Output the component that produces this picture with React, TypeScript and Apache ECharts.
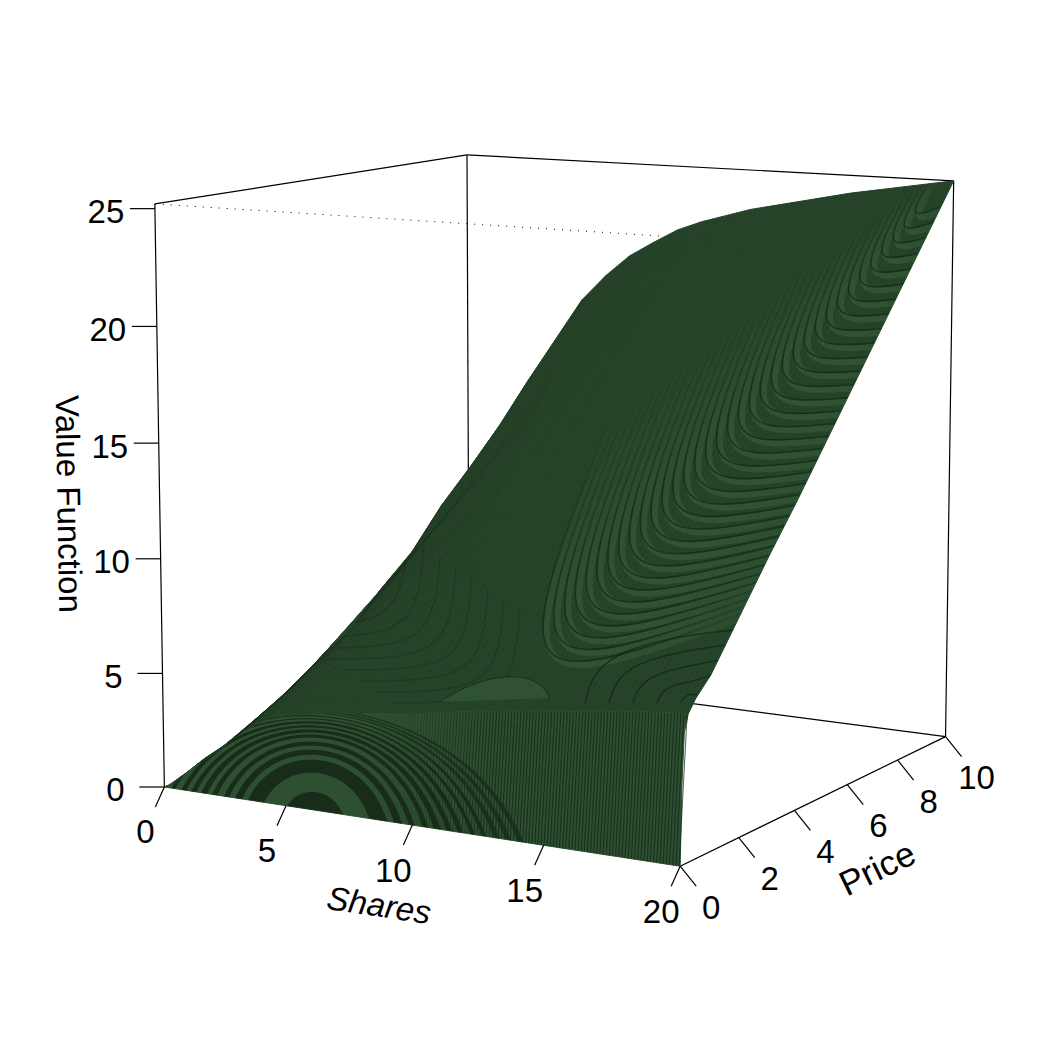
import React, { useEffect, useRef } from "react";
import * as echarts from "echarts";

const shares = [0, 0.5, 1, 2, 3, 4, 5, 6, 7, 8, 9, 10, 12, 14, 16, 18, 20];
const prices = [0, 0.05, 0.12, 0.25, 0.5, 1, 2, 3, 4, 5, 6, 7, 8, 9, 10];
const valueAtShares = [
  [0, 0, 0, 0, 0, 0, 0, 0, 0, 0, 0, 0, 0, 0, 0],
  [0, 0.3, 0.45, 0.5, 0.65, 0.85, 1.4, 1.9, 2.4, 2.9, 3.4, 3.9, 4.4, 4.9, 5.4],
  [0, 0.55, 0.9, 1, 1.15, 1.35, 2.05, 2.8, 3.6, 4.4, 5.2, 6, 6.8, 7.6, 8.4],
  [0, 1, 1.6, 1.8, 2, 2.35, 3.1, 4, 5, 5.9, 6.8, 7.7, 8.6, 9.5, 10.4],
  [0, 1.55, 2.45, 2.8, 3, 3.4, 4.2, 5.3, 6.4, 7.5, 8.6, 9.7, 10.8, 11.9, 13],
  [0, 1.9, 3.05, 3.5, 3.75, 4.2, 5.3, 6.4, 7.5, 8.8, 10, 11.3, 12.6, 14, 15.6],
  [0, 2.1, 3.35, 3.8, 4.1, 5, 6.6, 8, 9.2, 10.9, 12.3, 13.8, 15.5, 17.1, 18.7],
  [0, 2.2, 3.5, 4, 4.4, 5.3, 7.2, 8.6, 10, 11.7, 13, 14.6, 16.3, 17.9, 19.9],
  [0, 2.3, 3.65, 4.15, 4.6, 5.5, 7.4, 9, 10.6, 12.3, 13.8, 15.4, 17.1, 18.8, 20.9],
  [0, 2.35, 3.8, 4.3, 4.8, 5.7, 7.6, 9.4, 11.1, 12.9, 14.6, 16.2, 17.9, 19.7, 21.6],
  [0, 2.4, 3.9, 4.45, 4.95, 5.9, 7.8, 9.65, 11.4, 13.25, 15, 16.7, 18.5, 20.3, 22.25],
  [0, 2.5, 4.05, 4.6, 5.1, 6.1, 8, 9.9, 11.7, 13.6, 15.4, 17.2, 19.1, 20.9, 22.7],
  [0, 2.75, 4.4, 5, 5.5, 6.5, 8.4, 10.3, 12.2, 14.1, 15.9, 17.8, 19.6, 21.5, 23.4],
  [0, 2.9, 4.65, 5.3, 5.8, 6.8, 8.7, 10.6, 12.4, 14.3, 16.2, 18.1, 20, 21.9, 23.9],
  [0, 3.1, 4.9, 5.6, 6.1, 7, 8.9, 10.8, 12.7, 14.6, 16.6, 18.5, 20.5, 22.4, 24.4],
  [0, 3.25, 5.2, 5.9, 6.35, 7.2, 9.1, 11, 13, 14.9, 16.9, 18.9, 20.9, 22.8, 24.8],
  [0, 3.4, 5.4, 6.1, 6.6, 7.3, 9.3, 11.3, 13.2, 15.2, 17.2, 19.2, 21.2, 23.2, 25.2],
];
const shareTicks = [0, 5, 10, 15, 20];
const priceTicks = [0, 2, 4, 6, 8, 10];
const valueTicks = [0, 5, 10, 15, 20, 25];

const S_MAX = 20;
const P_MAX = 10;
const Z_MAX = 25.2;
const FONT = "'Liberation Sans', Arial, sans-serif";

// Camera calibration: box corners (S, P, Z) and where they fall on the page.
const calibration: number[][] = [
  [0, 0, 0, 165, 788],
  [1, 0, 0, 681, 866],
  [1, 1, 0, 945.5, 736.5],
  [0, 1, 0, 468, 674],
  [0, 0, 1, 155, 203.5],
  [0, 1, 1, 467.5, 155],
  [1, 1, 1, 954.5, 181.5],
  [1, 0, 1, 681, 237],
];

function solveCamera(): number[] {
  const rows: number[][] = [];
  const rhs: number[] = [];
  for (const [a, b, c, u, v] of calibration) {
    rows.push([a, b, c, 1, 0, 0, 0, 0, -u * a, -u * b, -u * c]);
    rhs.push(u);
    rows.push([0, 0, 0, 0, a, b, c, 1, -v * a, -v * b, -v * c]);
    rhs.push(v);
  }
  const n = 11;
  const m: number[][] = [];
  for (let i = 0; i < n; i++) {
    const r = new Array(n + 1).fill(0);
    for (let k = 0; k < rows.length; k++) {
      for (let j = 0; j < n; j++) r[j] += rows[k][i] * rows[k][j];
      r[n] += rows[k][i] * rhs[k];
    }
    m.push(r);
  }
  for (let i = 0; i < n; i++) {
    let p = i;
    for (let k = i + 1; k < n; k++) if (Math.abs(m[k][i]) > Math.abs(m[p][i])) p = k;
    [m[i], m[p]] = [m[p], m[i]];
    for (let k = 0; k < n; k++) {
      if (k === i) continue;
      const f = m[k][i] / m[i][i];
      for (let j = i; j <= n; j++) m[k][j] -= f * m[i][j];
    }
  }
  return m.map((r, i) => r[n] / r[i]);
}
const cam = solveCamera();
function project(s: number, p: number, z: number): [number, number] {
  const a = s / S_MAX, b = p / P_MAX, c = z / Z_MAX;
  const w = cam[8] * a + cam[9] * b + cam[10] * c + 1;
  return [
    (cam[0] * a + cam[1] * b + cam[2] * c + cam[3]) / w,
    (cam[4] * a + cam[5] * b + cam[6] * c + cam[7]) / w,
  ];
}
function findCell(list: number[], v: number): number {
  let i = 0;
  while (i < list.length - 2 && list[i + 1] < v) i++;
  return i;
}
// Display-only lookup for the fine mesh hairlines of the texture
function surfaceAt(s: number, p: number): [number, number] {
  const i = findCell(shares, s), j = findCell(prices, p);
  const u = (s - shares[i]) / (shares[i + 1] - shares[i]);
  const w = (p - prices[j]) / (prices[j + 1] - prices[j]);
  const g = valueAtShares;
  const z = (1 - u) * (1 - w) * g[i][j] + u * (1 - w) * g[i + 1][j] + (1 - u) * w * g[i][j + 1] + u * w * g[i + 1][j + 1];
  return project(s, p, z);
}

const SURFACE = "#26442a";
const WALL = "#2d5032";
const DARK = "#182c19";

const cells: number[][] = [];
for (let j = prices.length - 2; j >= 0; j--) {
  for (let i = 0; i < shares.length - 1; i++) cells.push([i, j]);
}

const P_CREASE = 3; // index of the fold row in prices

function renderCell(params: any, api: any) {
  const i = api.value(0), j = api.value(1);
  const g = valueAtShares;
  const pts = [
    project(shares[i], prices[j], g[i][j]),
    project(shares[i + 1], prices[j], g[i + 1][j]),
    project(shares[i + 1], prices[j + 1], g[i + 1][j + 1]),
    project(shares[i], prices[j + 1], g[i][j + 1]),
  ].map((q) => api.coord(q));
  const col = j < P_CREASE ? WALL : SURFACE;
  return { type: "polygon", shape: { points: pts }, style: { fill: col, stroke: col, lineWidth: 1 } };
}

const boxEdges = [
  [0, 0, 0, 0, 0, 1, 0],
  [0, 0, 1, 0, 1, 1, 0],
  [0, 1, 1, 1, 1, 1, 0],
  [1, 1, 1, 1, 1, 0, 0],
  [1, 1, 0, 1, 0, 0, 0],
  [0, 1, 0, 0, 1, 1, 0],
  [0, 1, 0, 1, 1, 0, 0],
  [0, 0, 0, 0, 1, 0, 0],
  [0, 0, 1, 1, 0, 1, 1],
  [1, 0, 1, 1, 1, 1, 1],
  [1, 0, 1, 1, 0, 0, 1],
];
function renderBox(params: any, api: any) {
  const k = params.dataIndex;
  const e = boxEdges[k];
  const a = api.coord(project(e[0] * S_MAX, e[1] * P_MAX, e[2] * Z_MAX));
  const b = api.coord(project(e[3] * S_MAX, e[4] * P_MAX, e[5] * Z_MAX));
  return {
    type: "line",
    shape: { x1: a[0], y1: a[1], x2: b[0], y2: b[1] },
    style: e[6] ? { stroke: "#000", lineWidth: 1, lineDash: [1, 7] } : { stroke: "#000", lineWidth: 1.2 },
  };
}

function tickGroup(api: any, base: [number, number], d: [number, number], labelAt: [number, number], text: string) {
  const a = api.coord(base);
  const b = api.coord([base[0] + d[0], base[1] + d[1]]);
  const t = api.coord([base[0] + labelAt[0], base[1] + labelAt[1]]);
  return {
    type: "group",
    children: [
      { type: "line", shape: { x1: a[0], y1: a[1], x2: b[0], y2: b[1] }, style: { stroke: "#000", lineWidth: 1.2 } },
      {
        type: "text",
        x: t[0],
        y: t[1],
        style: { text, fontSize: 33, fontFamily: FONT, fill: "#000", align: "center", verticalAlign: "middle" },
      },
    ],
  };
}
const renderShareTick = (_: any, api: any) => {
  const v = api.value(0);
  return tickGroup(api, project(v, 0, 0), [-9, 20], [-19, 45], String(v));
};
const renderPriceTick = (_: any, api: any) => {
  const v = api.value(0);
  return tickGroup(api, project(S_MAX, v, 0), [16, 20], [31, 41], String(v));
};
const renderValueTick = (_: any, api: any) => {
  const v = api.value(0);
  return tickGroup(api, project(0, 0, v), [-25, 0], [-49, 3], String(v));
};

const axisTitles = [
  { text: "Value Function", x: 69, y: 504, deg: -89, size: 33, style: "normal" },
  { text: "Shares", x: 379, y: 905, deg: -8.5, size: 33, style: "italic" },
  { text: "Price", x: 877, y: 868, deg: 26, size: 35, style: "normal" },
];
const renderTitle = (params: any, api: any) => {
  const t = axisTitles[params.dataIndex];
  const c = api.coord([t.x, t.y]);
  return {
    type: "text",
    x: c[0],
    y: c[1],
    rotation: (t.deg * Math.PI) / 180,
    style: {
      text: t.text,
      fontSize: t.size,
      fontStyle: t.style,
      fontFamily: FONT,
      fill: "#000",
      align: "center",
      verticalAlign: "middle",
    },
  };
};

// Moire texture of the fine mesh (styling only)
const bandOuterTop = [760, 750, 742, 735, 730, 726, 722, 719, 716, 713, 711, 709];
const bandInnerTop = [773, 755, 746, 738, 733, 728, 724, 720, 717, 714, 712, 710];
const bandOuterHalf = [66, 79, 90, 102, 113, 123, 133, 143, 153, 165, 175, 186];
const bandInnerHalf = [50, 72, 85, 97, 107, 118, 128, 139, 149, 160, 170, 181];

function gridPoint(api: any, i: number, j: number) {
  return api.coord(project(shares[i], prices[j], valueAtShares[i][j]));
}
function wallClip(api: any) {
  const pts: number[][] = [];
  for (let i = 0; i < shares.length; i++) pts.push(gridPoint(api, i, 0));
  for (let i = shares.length - 1; i >= 0; i--) pts.push(gridPoint(api, i, P_CREASE));
  return { type: "polygon", shape: { points: pts } };
}
function faceClip(api: any) {
  const pts: number[][] = [];
  const last = prices.length - 1;
  const lastS = shares.length - 1;
  const s5 = shares.indexOf(5);
  for (let i = 0; i <= lastS; i++) pts.push(gridPoint(api, i, P_CREASE));
  for (let j = P_CREASE + 1; j <= last; j++) pts.push(gridPoint(api, lastS, j));
  for (let i = lastS - 1; i >= s5; i--) pts.push(gridPoint(api, i, last));
  for (let j = last - 1; j >= 6; j--) pts.push(gridPoint(api, s5, j));
  return { type: "polygon", shape: { points: pts } };
}
function edgeY(x: number) {
  const a = project(0, 0, 0), b = project(S_MAX, 0, 0);
  return a[1] + ((x - a[0]) / (b[0] - a[0])) * (b[1] - a[1]);
}
const ARCH_CX = 313;
function archPoints(top: number, half: number): number[][] {
  const x1 = ARCH_CX - half, x2 = ARCH_CX + half * 1.14;
  const y1 = edgeY(x1) + 3, y2 = edgeY(x2) + 3;
  const foot = (y1 + y2) / 2;
  const cy = foot - (foot - top) / 0.75;
  const cx1 = x1 + (x2 - x1) * 0.17, cx2 = x2 - (x2 - x1) * 0.17;
  const out: number[][] = [];
  for (let k = 0; k <= 48; k++) {
    const t = k / 48, m = 1 - t;
    out.push([
      m * m * m * x1 + 3 * m * m * t * cx1 + 3 * m * t * t * cx2 + t * t * t * x2,
      m * m * m * y1 + 3 * m * m * t * cy + 3 * m * t * t * cy + t * t * t * y2,
    ]);
  }
  return out;
}

function renderWall(_: any, api: any) {
  const children: any[] = [];
  // fine mesh stripes on the wall, stronger away from the ring centre
  for (let s = 8; s < S_MAX; s += 0.115) {
    const a = api.coord(surfaceAt(s, 0));
    const b = api.coord(surfaceAt(s, 0.25));
    const o = Math.min(0.66, ((s - 8) / 5) * 0.66);
    children.push({ type: "line", shape: { x1: a[0], y1: a[1], x2: b[0], y2: b[1] }, style: { stroke: "#101f10", lineWidth: 1.1, opacity: o } });
  }
  bandOuterTop.forEach((top, k) => {
    const outer = archPoints(top, bandOuterHalf[k]);
    const inner = archPoints(bandInnerTop[k], bandInnerHalf[k]);
    const pts = outer.concat(inner.reverse()).map((q) => api.coord(q));
    children.push({ type: "polygon", shape: { points: pts }, style: { fill: DARK, opacity: k < 9 ? 1 : 0.8 } });
  });
  children.push({
    type: "polygon",
    shape: { points: archPoints(792, 27).map((q) => api.coord(q)) },
    style: { fill: DARK },
  });
  // fine stripes close to the fold
  for (let k = 0; k < 3; k++) {
    const y = 700 + k * 3;
    children.push({ type: "line", shape: { x1: 200, y1: y + 10, x2: 690, y2: y }, style: { stroke: "#152816", lineWidth: 1, opacity: 0.3 } });
  }
  return { type: "group", clipPath: wallClip(api), children };
}

function renderFace(_: any, api: any) {
  const children: any[] = [];
  // long mesh hairlines
  for (let s = 0.5; s < S_MAX; s += 0.2) {
    const pts: number[][] = [];
    for (let j = P_CREASE; j < prices.length; j++) pts.push(api.coord(surfaceAt(s, prices[j])));
    children.push({ type: "polyline", shape: { points: pts }, style: { stroke: "#16281a", lineWidth: 0.6, opacity: 0.28, fill: "none" } });
  }
  const n = 34;
  const edgeX = (y: number) => 725 + (640 - y) * 0.501 + 4;
  for (let i = 0; i <= n; i++) {
    const t = i / n;
    const kx = 495 + 410 * t, ky = 705 - 483 * t;
    const ry = 613 - 250 * t - 160 * t * t;
    const rx = edgeX(ry);
    const ux = kx + 120 - 90 * t, uy = ky - (300 - 250 * t);
    for (const layer of [0, 1]) {
      const off = layer ? 0 : -3.5;
      const a = 0.95;
      const shape = {
        x1: ux - off, y1: uy - off, x2: rx - off, y2: ry - off,
        cpx1: ux + a * (kx - ux) - off, cpy1: uy + a * (ky - uy) - off,
        cpx2: rx + a * (kx - rx) - off, cpy2: ry + a * (ky - ry) - off,
      };
      const colorEnd = layer ? "rgba(14,28,14,0.58)" : "rgba(66,112,70,0.36)";
      const colorFade = layer ? "rgba(14,28,14,0)" : "rgba(66,112,70,0)";
      children.push({
        type: "bezierCurve",
        shape,
        style: {
          fill: "none",
          lineWidth: layer ? 1.6 : 6,
          stroke: {
            type: "linear", global: true, x: ux, y: uy, x2: kx, y2: ky,
            colorStops: [
              { offset: 0, color: colorFade },
              { offset: 0.8, color: colorEnd },
              { offset: 1, color: colorEnd },
            ],
          },
        },
      });
    }
  }
  // left fan of the saddle
  for (let i = 0; i < 8; i++) {
    const kx = 512 - 16 * i, ky = 705 - 11 * i;
    children.push({
      type: "bezierCurve",
      shape: { x1: kx + 8, y1: ky - 95, x2: kx - 120, y2: ky - 2, cpx1: kx + 2, cpy1: ky - 10, cpx2: kx - 8, cpy2: ky - 2 },
      style: { fill: "none", stroke: "rgba(14,28,14,0.22)", lineWidth: 1.5 },
    });
  }
  // arcs between the fold and the right edge
  for (let i = 0; i < 5; i++) {
    const sx = 585 + i * 24, sy = 703;
    const ry = 630 + i * 15;
    const rx = edgeX(ry);
    children.push({
      type: "bezierCurve",
      shape: { x1: sx, y1: sy, x2: rx, y2: ry, cpx1: sx + 8, cpy1: sy - 38 + i * 5, cpx2: sx + 25, cpy2: ry + 12 },
      style: { fill: "none", stroke: "rgba(14,28,14,0.55)", lineWidth: 1.5 },
    });
  }
  // light tongue above the fold
  children.push({
    type: "bezierCurve",
    shape: { x1: 440, y1: 702, x2: 549, y2: 698, cpx1: 490, cpy1: 668, cpx2: 540, cpy2: 670 },
    style: { fill: "#2e5233", stroke: "rgba(14,28,14,0.5)", lineWidth: 1 },
  });
  return { type: "group", clipPath: faceClip(api), children };
}

const one = [[0, 0]];
const base = {
  type: "custom",
  coordinateSystem: "cartesian2d",
  silent: true,
  clip: false,
  encode: { x: 0, y: 1 },
};

export default function App() {
  const ref = useRef<HTMLDivElement>(null);
  useEffect(() => {
    document.body.style.margin = "0";
    document.body.style.background = "#fff";
    const chart = echarts.init(ref.current!, undefined, { renderer: "svg" });
    chart.setOption({
      animation: false,
      backgroundColor: "#ffffff",
      grid: { left: 0, top: 0, right: 0, bottom: 0 },
      xAxis: { type: "value", min: 0, max: 1050, show: false },
      yAxis: { type: "value", min: 0, max: 1050, inverse: true, show: false },
      series: [
        { ...base, name: "box", z: 1, data: boxEdges.map((_, i) => [i, 0]), renderItem: renderBox },
        { ...base, name: "Value Function", z: 2, data: cells, renderItem: renderCell },
        { ...base, name: "wall mesh", z: 3, data: one, renderItem: renderWall },
        { ...base, name: "face mesh", z: 3, data: one, renderItem: renderFace },
        { ...base, name: "Shares ticks", z: 4, data: shareTicks.map((v) => [v, 0]), renderItem: renderShareTick },
        { ...base, name: "Price ticks", z: 4, data: priceTicks.map((v) => [v, 0]), renderItem: renderPriceTick },
        { ...base, name: "Value ticks", z: 4, data: valueTicks.map((v) => [v, 0]), renderItem: renderValueTick },
        { ...base, name: "titles", z: 4, data: axisTitles.map((_, i) => [i, 0]), renderItem: renderTitle },
      ],
    });
    return () => chart.dispose();
  }, []);
  return <div ref={ref} style={{ width: 1050, height: 1050 }} />;
}
